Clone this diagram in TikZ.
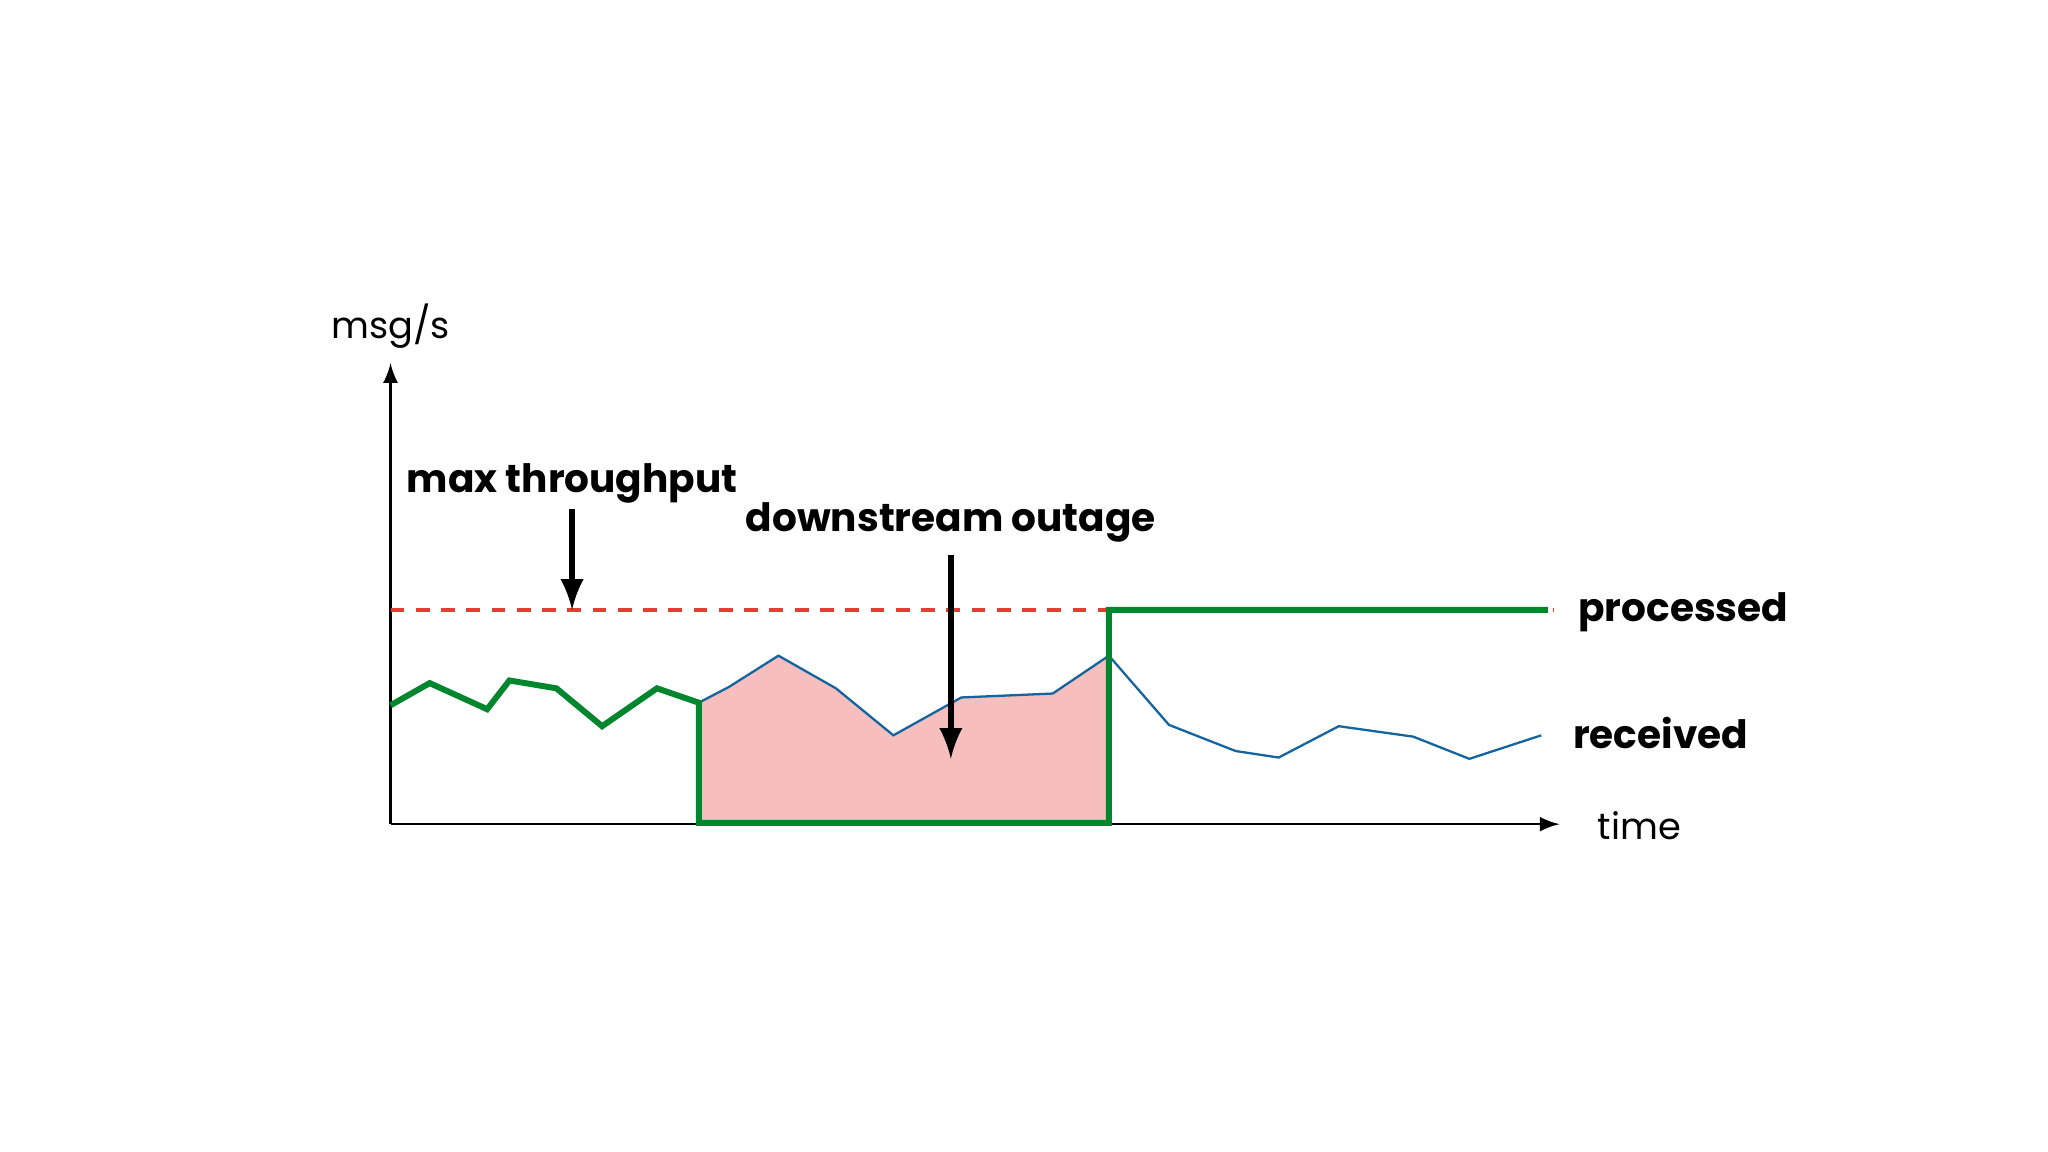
\documentclass[tikz,border=0pt]{standalone}
\usepackage{fontspec}
\setmainfont{Poppins}
\begin{document}
\begin{tikzpicture}[x=0.01cm,y=-0.01cm,
  lbl/.style={font=\bfseries\fontsize{8.5}{10}\selectfont},
  ax/.style={font=\fontsize{8}{10}\selectfont},
  grn/.style={draw={rgb,255:red,0;green,135;blue,45},line width=1.3pt},
  blu/.style={draw={rgb,255:red,20;green,100;blue,160},line width=0.5pt}]
\useasboundingbox (0,0) rectangle (1568,882);
\fill[fill={rgb,255:red,247;green,190;blue,190}] (535,538)--(558,526)--(596,502)--(640,527)--(684,563)--(736,534)--(806,531)--(849,502)--(849,630)--(535,630)--cycle;
\coordinate (o) at (299,631);
\coordinate (yt) at (299,278);
\coordinate (xt) at (1194,631);
\draw[-latex,line width=0.5pt] (o)--(yt);
\draw[-latex,line width=0.5pt] (o)--(xt);
\node[ax] (ylab) at (299,250) {msg/s};
\node[ax,anchor=west] (xlab) at (1211,632) {time};
\draw[dashed,draw={rgb,255:red,230;green,60;blue,50},line width=1pt,dash pattern=on 3pt off 2.5pt] (299,467)--(1190,467);
\draw[blu] (535,538)--(558,526)--(596,502)--(640,527)--(684,563)--(736,534)--(806,531)--(849,502)--(895,555)--(946,575)--(979,580)--(1025,556)--(1082,564)--(1125,581)--(1180,563);
\draw[grn] (299,540)--(329,523)--(373,543)--(390,521)--(426,527)--(461,556)--(503,527)--(535,538)--(535,630)--(849,630)--(849,467)--(1185,467);
\node[lbl] (mt) at (438,370) {max throughput};
\node[lbl] (do) at (728,400) {downstream outage};
\coordinate (mta) at (438,467);
\coordinate (doa) at (728,581);
\draw[-latex,line width=1.3pt] (438,390)--(mta);
\draw[-latex,line width=1.3pt] (728,425)--(doa);
\node[lbl,anchor=west] (pr) at (1196,469) {processed};
\node[lbl,anchor=west] (re) at (1192,561) {received};
\end{tikzpicture}
\end{document}
